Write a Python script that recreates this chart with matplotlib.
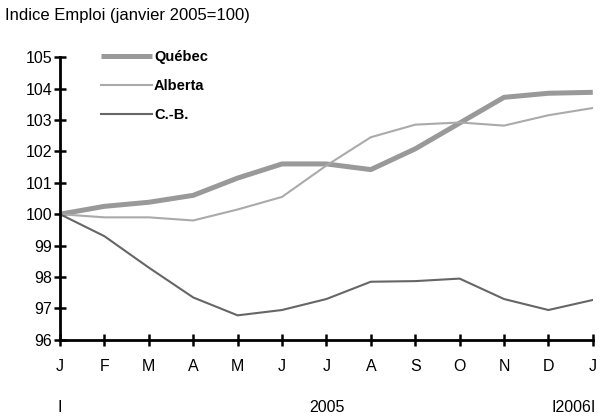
import matplotlib.pyplot as plt

plt.rcParams['font.family'] = ['Liberation Sans', 'DejaVu Sans']

mois = ['J', 'F', 'M', 'A', 'M', 'J', 'J', 'A', 'S', 'O', 'N', 'D', 'J']
quebec = [100, 100.25, 100.38, 100.6, 101.15, 101.6, 101.6, 101.42, 102.08, 102.9, 103.72, 103.85, 103.88]
alberta = [100, 99.9, 99.9, 99.8, 100.15, 100.55, 101.55, 102.45, 102.85, 102.92, 102.82, 103.15, 103.38]
cb = [100, 99.3, 98.3, 97.35, 96.78, 96.95, 97.3, 97.85, 97.87, 97.95, 97.3, 96.95, 97.27]

fig = plt.figure(figsize=(6, 4.17), dpi=100)
ax = fig.add_axes([0.1, 0.185, 0.888, 0.678])

x = list(range(len(mois)))
ax.plot(x, quebec, color='#999999', linewidth=3.6, label='Québec', solid_capstyle='butt')
ax.plot(x, alberta, color='#aaaaaa', linewidth=1.5, label='Alberta')
ax.plot(x, cb, color='#666666', linewidth=1.5, label='C.-B.')

ax.set_xlim(0, 12)
ax.set_ylim(96, 105)
ax.set_xticks(x)
ax.set_xticklabels(mois)
ax.set_yticks(range(96, 106))
ax.spines['top'].set_visible(False)
ax.spines['right'].set_visible(False)
ax.spines['left'].set_linewidth(2)
ax.spines['bottom'].set_linewidth(2)
ax.tick_params(direction='inout', length=9, width=1.8, labelsize=11.5)
ax.tick_params(axis='x', pad=9)
ax.tick_params(axis='y', pad=1)

leg = ax.legend(loc='upper left', bbox_to_anchor=(0.052, 1.07), frameon=False,
                handlelength=3.5, handletextpad=0.15, labelspacing=1.0,
                prop={'weight': 'bold', 'size': 10.5})

fig.text(0.008, 0.962, 'Indice Emploi (janvier 2005=100)', fontsize=12, va='center')
fig.text(0.1, 0.013, 'I', fontsize=11.5, ha='center')
fig.text(0.545, 0.013, '2005', fontsize=11.5, ha='center')
fig.text(0.956, 0.013, 'I2006I', fontsize=11.5, ha='center')

plt.savefig('out.png', dpi=100)
